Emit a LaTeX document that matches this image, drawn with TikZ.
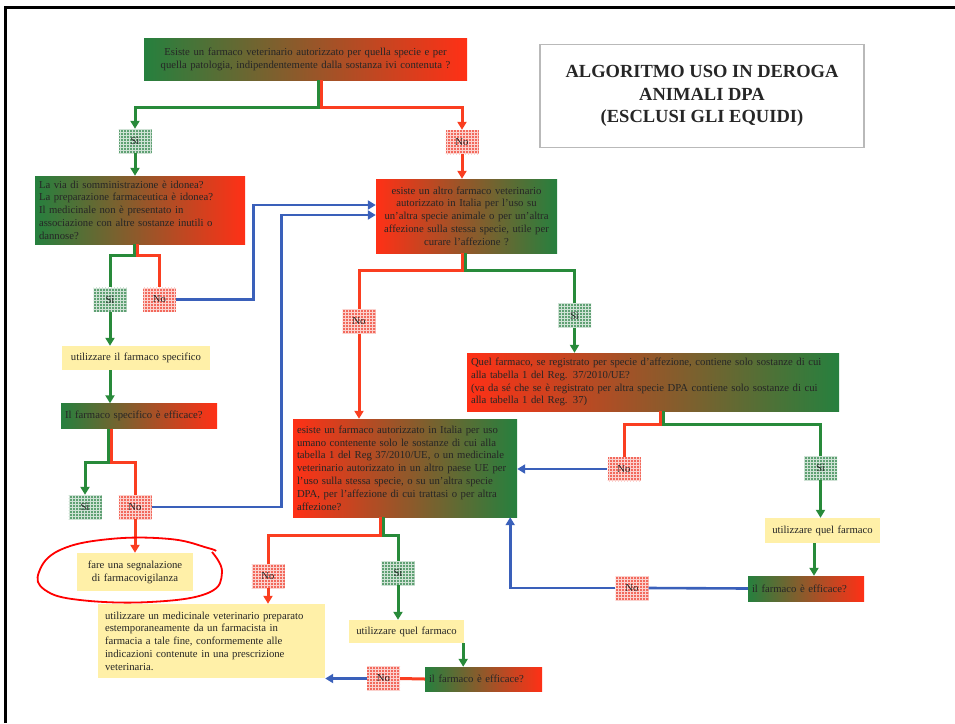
\documentclass[tikz,border=0pt]{standalone}
\usepackage{fontspec}
\setmainfont{Liberation Serif}
\usetikzlibrary{arrows.meta,patterns,calc}
\definecolor{fgreen}{RGB}{38,128,62}
\definecolor{fred}{RGB}{255,48,22}
\definecolor{sifill}{RGB}{95,160,115}
\definecolor{nofill}{RGB}{242,105,92}
\definecolor{fyellow}{RGB}{255,240,168}
\definecolor{agreen}{RGB}{40,138,58}
\definecolor{ared}{RGB}{250,62,32}
\definecolor{ablue}{RGB}{58,96,186}
\tikzset{font=\fontsize{10.7}{12.8}\selectfont}
\tikzset{
  gr/.style={left color=fgreen, right color=fred, inner xsep=4pt, inner ysep=3pt, text=black!85},
  rg/.style={left color=fred, right color=fgreen, inner xsep=4pt, inner ysep=3pt, text=black!85},
  yel/.style={fill=fyellow, inner xsep=4pt, inner ysep=3pt, text=black!85},
  sibox/.style={fill=sifill, postaction={pattern=grid, pattern color=white!70!sifill},
    minimum width=33pt, minimum height=24pt, inner sep=0pt, text=black!85},
  nobox/.style={fill=nofill, postaction={pattern=grid, pattern color=white!70!nofill},
    minimum width=33pt, minimum height=24pt, inner sep=0pt, text=black!85},
  gline/.style={draw=agreen, line width=3pt},
  rline/.style={draw=ared, line width=3pt},
  bline/.style={draw=ablue, line width=2.6pt},
  tip/.style={-{Triangle[length=8pt,width=9pt]}}
}

\begin{document}
\begin{tikzpicture}[x=1pt,y=-1pt]
\useasboundingbox (0,0) rectangle (955,723);
\draw[line width=2.5pt] (5.5,723) -- (5.5,7.5) -- (955,7.5);

% title
\node[draw=gray!55, line width=1.2pt, minimum width=324pt, minimum height=103pt, align=center,
  font=\fontsize{18.5}{22.5}\selectfont\bfseries, text=black!85] (title) at (702,96)
  {ALGORITMO USO IN DEROGA\\ ANIMALI DPA\\ (ESCLUSI GLI EQUIDI)};

% questions
\node[gr, minimum width=323pt, minimum height=42pt, text width=315pt, align=center] (q1) at (305.5,59)
  {Esiste un farmaco veterinario autorizzato per quella specie e per\\ quella patologia, indipendentemente dalla sostanza ivi contenuta ?};
\node[gr, minimum width=210pt, minimum height=68pt, text width=202pt, align=left] (q2) at (140,210)
  {La via di somministrazione è idonea?\\ La preparazione farmaceutica è idonea?\\ Il medicinale non è presentato in\\ associazione con altre sostanze inutili o\\ dannose?};
\node[rg, minimum width=181pt, minimum height=74pt, text width=173pt, align=center] (q4) at (466.5,216)
  {esiste un altro farmaco veterinario\\ autorizzato in Italia per l'uso su\\ un'altra specie animale o per un'altra\\ affezione sulla stessa specie, utile per\\ curare l'affezione ?};
\node[gr, minimum width=156pt, minimum height=25pt, text width=148pt, align=left] (q3) at (139,416)
  {Il farmaco specifico è efficace?};
\node[rg, minimum width=372pt, minimum height=58pt, text width=364pt, align=left] (q5) at (653,382)
  {Quel farmaco, se registrato per specie d'affezione, contiene solo sostanze di cui\\ alla tabella 1 del Reg. 37/2010/UE?\\ (va da sé che se è registrato per altra specie DPA contiene solo sostanze di cui\\ alla tabella 1 del Reg. 37)};
\node[rg, minimum width=224pt, minimum height=98pt, text width=216pt, align=left] (q6) at (405,468)
  {esiste un farmaco autorizzato in Italia per uso\\ umano contenente solo le sostanze di cui alla\\ tabella 1 del Reg 37/2010/UE, o un medicinale\\ veterinario autorizzato in un altro paese UE per\\ l'uso sulla stessa specie, o su un'altra specie\\ DPA, per l'affezione di cui trattasi o per altra\\ affezione?};
\node[gr, minimum width=116pt, minimum height=25pt, text width=108pt, align=left] (q7) at (806,588.5)
  {il farmaco è efficace?};
\node[gr, minimum width=117pt, minimum height=24pt, text width=109pt, align=left] (q8) at (483.5,679)
  {il farmaco è efficace?};

% actions
\node[yel, minimum width=148pt, minimum height=24pt, text width=140pt, align=center] (use1) at (136,358)
  {utilizzare il farmaco specifico};
\node[yel, minimum width=116pt, minimum height=38pt, text width=108pt, align=center] (fv) at (135,572)
  {fare una segnalazione\\ di farmacovigilanza};
\node[yel, minimum width=115pt, minimum height=25pt, text width=107pt, align=center] (use2) at (822.5,530.5)
  {utilizzare quel farmaco};
\node[yel, minimum width=115pt, minimum height=23pt, text width=107pt, align=center] (use3) at (406.5,631.5)
  {utilizzare quel farmaco};
\node[yel, minimum width=227pt, minimum height=74pt, text width=213pt, inner xsep=7pt, align=left] (use4) at (211.5,641)
  {utilizzare un medicinale veterinario preparato\\ estemporaneamente da un farmacista in\\ farmacia a tale fine, conformemente alle\\ indicazioni contenute in una prescrizione\\ veterinaria.};

% answers
\node[sibox] (si1) at (135,141) {Sì};
\node[nobox] (no1) at (462,142) {No};
\node[sibox] (si2) at (110,299.5) {Sì};
\node[nobox] (no2) at (159.5,299.5) {No};
\node[sibox] (si3) at (85,507) {Sì};
\node[nobox] (no3) at (135,507) {No};
\node[nobox] (noA) at (359,321.5) {No};
\node[sibox] (siA) at (574.5,315.5) {Sì};
\node[nobox] (noB) at (624,469) {No};
\node[sibox] (siB) at (820.5,468) {Sì};
\node[nobox] (noC) at (632,588) {No};
\node[nobox] (noD) at (268,576) {No};
\node[sibox] (siD) at (398,573) {Sì};
\node[nobox] (noE) at (383.5,678.5) {No};

% branches
\draw[gline,tip] ([xshift=13pt]q1.south) -- ++(0,27) -| (si1.north);
\draw[rline,tip] ([xshift=16pt]q1.south) -- ++(0,27) -| (no1.north);
\draw[gline,tip] (si1.south) -- (si1.south |- q2.north);
\draw[rline,tip] (no1.south) -- (no1.south |- q4.north);

\draw[gline] ([xshift=-6pt]q2.south) -- ++(0,11) -| (si2.north);
\draw[rline] ([xshift=-3pt]q2.south) -- ++(0,11) -| (no2.north);
\draw[gline,tip] (si2.south) -- (si2.south |- use1.north);
\draw[gline,tip] (si2.south |- use1.south) -- (si2.south |- q3.north);
\draw[bline,tip] (no2.east) -- ++(77,0) |- ([yshift=11pt]q4.west);

\draw[gline,tip] ([xshift=-30.5pt]q3.south) -- ++(0,33.5) -| (si3.north);
\draw[rline] ([xshift=-27.5pt]q3.south) -- ++(0,33.5) -| (no3.north);
\draw[rline,tip] (no3.south) -- (no3.south |- fv.north);
\draw[bline,tip] (no3.east) -- ++(130,0) |- ([yshift=1pt]q4.west);

\draw[rline] ([xshift=-4.5pt]q4.south) -- ++(0,17) -| (noA.north);
\draw[gline] ([xshift=-1.5pt]q4.south) -- ++(0,17) -| (siA.north);
\draw[rline,tip] (noA.south) -- (noA.south |- q6.north);
\draw[gline,tip] (siA.south) -- (siA.south |- q5.north);

\draw[rline] ([xshift=7pt]q5.south) -- ++(0,13) -| (noB.north);
\draw[gline] ([xshift=10pt]q5.south) -- ++(0,13) -| (siB.north);
\draw[bline,tip] (noB.west) -- (noB.west -| q6.east);
\draw[gline,tip] (siB.south) -- (siB.south |- use2.north);
\draw[gline,tip] ([xshift=-8.5pt]use2.south) -- ([xshift=-8.5pt]use2.south |- q7.north);
\draw[bline] (q7.west) -- (noC.east);
\draw[bline,tip] (noC.west) -| ([xshift=-7pt]q6.south east);

\draw[rline] ([xshift=-25pt]q6.south) -- ++(0,18) -| (noD.north);
\draw[gline] ([xshift=-22pt]q6.south) -- ++(0,18) -| (siD.north);
\draw[rline,tip] (noD.south) -- (noD.south |- use4.north);
\draw[gline,tip] (siD.south) -- (siD.south |- use3.north);
\draw[gline,tip] ([xshift=-1pt]use3.south east) -- ([xshift=-1pt]use3.south east |- q8.north);
\draw[rline] (q8.west) -- (noE.east);
\draw[bline,tip] (noE.west) -- (noE.west -| use4.east);

% hand-drawn mark
\draw[red, line width=1.8pt] plot[smooth, tension=.7] coordinates{(212,552) (222,572) (208,593) (150,602)
  (80,600) (45,590) (39,572) (60,550) (110,539) (170,539) (208,548) (216,551)};
\end{tikzpicture}
\end{document}
